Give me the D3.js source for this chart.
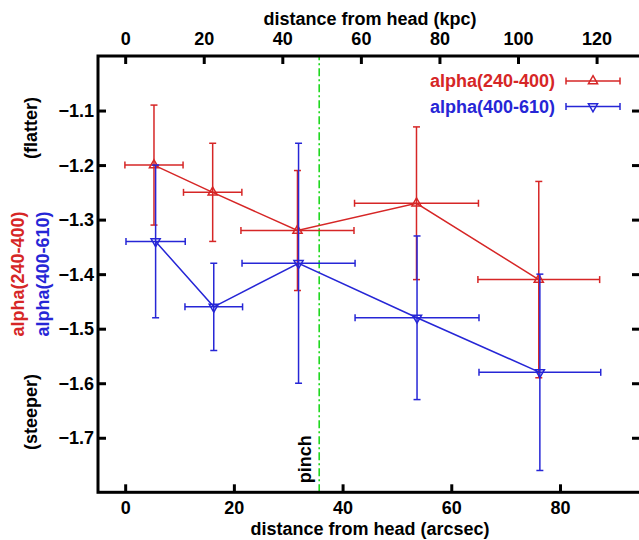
<!DOCTYPE html>
<html lang="en">
<head>
  <meta charset="UTF-8">
  <title>Spectral index vs distance from head</title>
  <style>
    body { margin: 0; background: #fff; }
    svg text { font-family: "Liberation Sans", Arial, sans-serif; font-weight: bold; font-size: 18px; }
    .axis path { display: none; }
    .axis line { stroke: #000; stroke-width: 3; }
    .axis text { fill: #000; }
  </style>
</head>
<body>
  <div id="chart"></div>
  <script src="https://d3js.org/d3.v7.min.js"></script>
  <script>
    // data (x in arcsec)
    const redX    = [5.3, 16.1, 31.7, 53.6, 76.1];
    const redXErr = [5.35, 5.37, 10.4, 11.4, 11.2];
    const redY    = [-1.20, -1.25, -1.32, -1.27, -1.41];
    const redYErr = [0.11, 0.09, 0.11, 0.14, 0.18];

    const blueX    = [5.6, 16.3, 31.9, 53.7, 76.3];
    const blueXErr = [5.45, 5.3, 10.4, 11.4, 11.2];
    const blueY    = [-1.34, -1.46, -1.38, -1.48, -1.58];
    const blueYErr = [0.14, 0.08, 0.22, 0.15, 0.18];

    const pinchX = 35.7;
    const arcsecTicks = [0, 20, 40, 60, 80];
    const kpcTicks = [0, 20, 40, 60, 80, 100, 120];
    const yTicks = [-1.1, -1.2, -1.3, -1.4, -1.5, -1.6, -1.7];
    const kpcPerArcsec = 1.3835;

    const red = '#d62626', blue = '#2626d6', green = '#1fd81f';

    const width = 639, height = 540;
    const pLeft = 98, pRight = 641.5, pTop = 56, pBottom = 492.3;

    const svg = d3.select('#chart').append('svg')
      .attr('width', width)
      .attr('height', height);

    const x = d3.scaleLinear().domain([-5, 95]).range([pLeft, pRight]);
    const xTop = d3.scaleLinear().domain([-5 * kpcPerArcsec, 95 * kpcPerArcsec]).range([pLeft, pRight]);
    const y = d3.scaleLinear().domain([-1.8, -1.0]).range([pBottom, pTop]);

    // pinch line (behind everything)
    svg.append('line')
      .attr('x1', x(pinchX)).attr('x2', x(pinchX))
      .attr('y1', y(-1.8)).attr('y2', y(-1.0))
      .attr('stroke', green).attr('stroke-width', 1.6)
      .attr('stroke-dasharray', '8,3,2,3');
    svg.append('text')
      .attr('transform', 'translate(' + (x(pinchX) - 8) + ',' + (y(-1.8) - 9) + ') rotate(-90)')
      .text('pinch');

    // axes, ticks inward
    svg.append('g').attr('class', 'axis')
      .attr('transform', 'translate(0,' + pBottom + ')')
      .call(d3.axisBottom(x).tickValues(arcsecTicks).tickSize(-8).tickPadding(16));
    svg.append('g').attr('class', 'axis')
      .attr('transform', 'translate(0,' + pTop + ')')
      .call(d3.axisTop(xTop).tickValues(kpcTicks).tickSize(-8).tickPadding(17));
    svg.append('g').attr('class', 'axis')
      .attr('transform', 'translate(' + pLeft + ',0)')
      .call(d3.axisLeft(y).tickValues(yTicks).tickFormat(d3.format('.1f')).tickSize(-8).tickPadding(4));
    svg.append('g').attr('class', 'axis')
      .attr('transform', 'translate(' + (pRight - 1.5) + ',0)')
      .call(d3.axisRight(y).tickValues(yTicks).tickSize(-8).tickFormat(''));

    svg.selectAll('.axis text').attr('dy', null);
    svg.selectAll('.axis text').attr('dominant-baseline', 'central');

    // frame
    svg.append('rect')
      .attr('x', pLeft).attr('y', pTop)
      .attr('width', pRight - pLeft).attr('height', pBottom - pTop)
      .attr('fill', 'none').attr('stroke', '#000').attr('stroke-width', 3);

    // axis titles
    svg.append('text').attr('x', 370).attr('y', 535).attr('text-anchor', 'middle')
      .text('distance from head (arcsec)');
    svg.append('text').attr('x', 370).attr('y', 25).attr('text-anchor', 'middle')
      .text('distance from head (kpc)');
    svg.append('text').attr('transform', 'translate(37,128) rotate(-90)').attr('text-anchor', 'middle')
      .text('(flatter)');
    svg.append('text').attr('transform', 'translate(37,412) rotate(-90)').attr('text-anchor', 'middle')
      .text('(steeper)');
    svg.append('text').attr('transform', 'translate(24,274) rotate(-90)').attr('text-anchor', 'middle')
      .attr('fill', red).text('alpha(240-400)');
    svg.append('text').attr('transform', 'translate(49,274) rotate(-90)').attr('text-anchor', 'middle')
      .attr('fill', blue).text('alpha(400-610)');

    const cap = 3.5;

    function drawSeries(xs, xe, ys, ye, color, down) {
      const g = svg.append('g').attr('stroke', color).attr('stroke-width', 1.5).attr('fill', 'none');
      const pts = xs.map((v, i) => ({ x: v, xe: xe[i], y: ys[i], ye: ye[i] }));

      g.append('path')
        .datum(pts)
        .attr('d', d3.line().x(d => x(d.x)).y(d => y(d.y)));

      const bars = g.selectAll('g.bar').data(pts).enter().append('g').attr('class', 'bar');
      // horizontal error
      bars.append('line')
        .attr('x1', d => x(d.x - d.xe)).attr('x2', d => x(d.x + d.xe))
        .attr('y1', d => y(d.y)).attr('y2', d => y(d.y));
      bars.append('line')
        .attr('x1', d => x(d.x - d.xe)).attr('x2', d => x(d.x - d.xe))
        .attr('y1', d => y(d.y) - cap).attr('y2', d => y(d.y) + cap);
      bars.append('line')
        .attr('x1', d => x(d.x + d.xe)).attr('x2', d => x(d.x + d.xe))
        .attr('y1', d => y(d.y) - cap).attr('y2', d => y(d.y) + cap);
      // vertical error
      bars.append('line')
        .attr('x1', d => x(d.x)).attr('x2', d => x(d.x))
        .attr('y1', d => y(d.y + d.ye)).attr('y2', d => y(d.y - d.ye));
      bars.append('line')
        .attr('x1', d => x(d.x) - cap).attr('x2', d => x(d.x) + cap)
        .attr('y1', d => y(d.y + d.ye)).attr('y2', d => y(d.y + d.ye));
      bars.append('line')
        .attr('x1', d => x(d.x) - cap).attr('x2', d => x(d.x) + cap)
        .attr('y1', d => y(d.y - d.ye)).attr('y2', d => y(d.y - d.ye));

      const sym = d3.symbol().type(d3.symbolTriangle).size(36);
      g.selectAll('path.mk').data(pts).enter().append('path').attr('class', 'mk')
        .attr('d', sym)
        .attr('transform', d => 'translate(' + x(d.x) + ',' + y(d.y) + ')' + (down ? ' rotate(180)' : ''));
    }

    drawSeries(redX, redXErr, redY, redYErr, red, false);
    drawSeries(blueX, blueXErr, blueY, blueYErr, blue, true);

    // legend
    const legend = [
      { label: 'alpha(240-400)', color: red, down: false, cy: 81 },
      { label: 'alpha(400-610)', color: blue, down: true, cy: 106.5 }
    ];
    const lg = svg.selectAll('g.leg').data(legend).enter().append('g').attr('class', 'leg');
    lg.append('text').attr('x', 555).attr('y', d => d.cy).attr('dominant-baseline', 'central')
      .attr('text-anchor', 'end').attr('fill', d => d.color).text(d => d.label);
    lg.append('line').attr('x1', 566).attr('x2', 620).attr('y1', d => d.cy).attr('y2', d => d.cy)
      .attr('stroke', d => d.color).attr('stroke-width', 1.5);
    lg.append('line').attr('x1', 566).attr('x2', 566).attr('y1', d => d.cy - cap).attr('y2', d => d.cy + cap)
      .attr('stroke', d => d.color).attr('stroke-width', 1.5);
    lg.append('line').attr('x1', 620).attr('x2', 620).attr('y1', d => d.cy - cap).attr('y2', d => d.cy + cap)
      .attr('stroke', d => d.color).attr('stroke-width', 1.5);
    lg.append('path').attr('d', d3.symbol().type(d3.symbolTriangle).size(36))
      .attr('fill', 'none').attr('stroke', d => d.color).attr('stroke-width', 1.5)
      .attr('transform', d => 'translate(593,' + d.cy + ')' + (d.down ? ' rotate(180)' : ''));
  </script>
</body>
</html>
